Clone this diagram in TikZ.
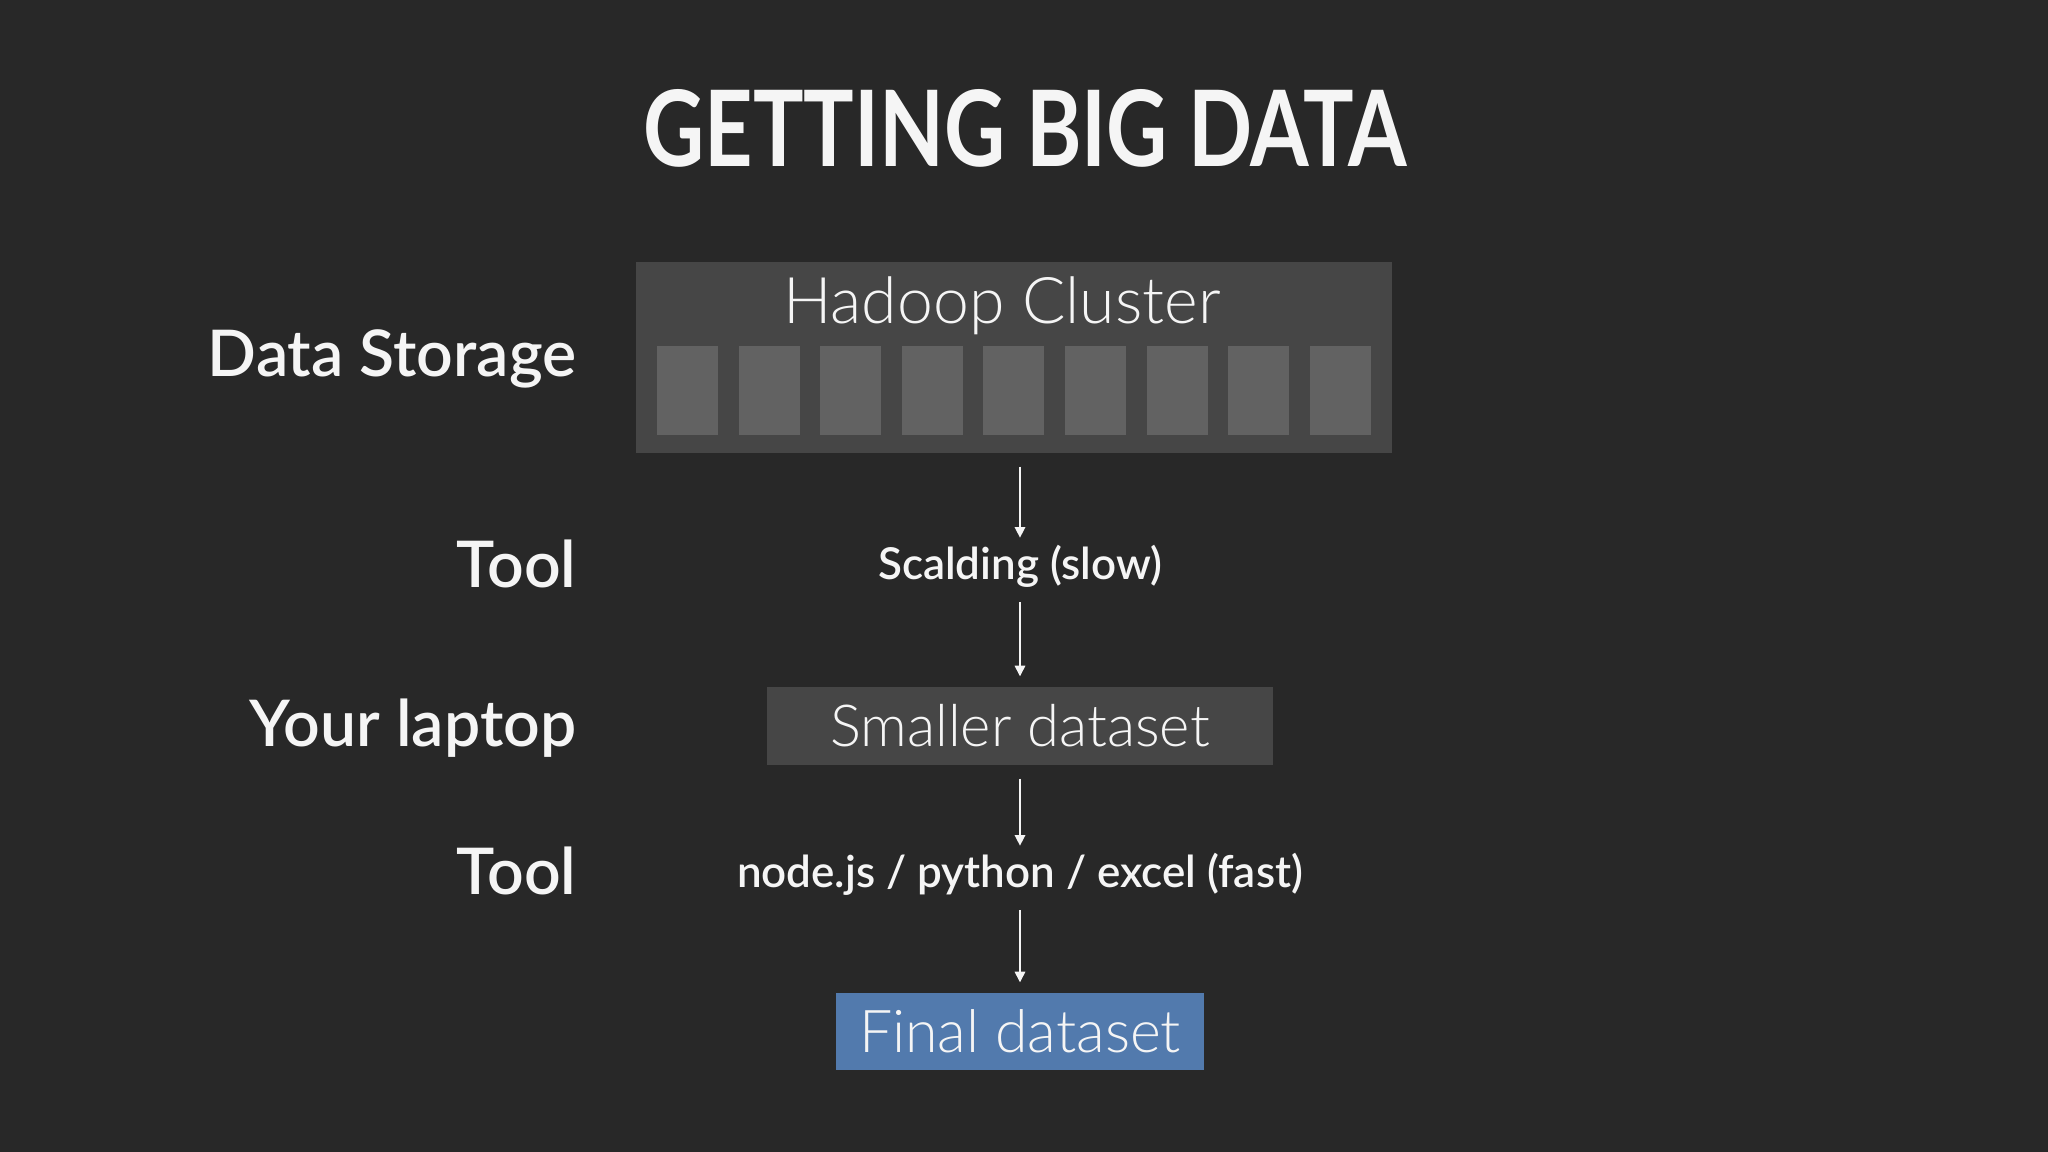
\documentclass[tikz,border=0pt]{standalone}
\usepackage{fontspec}
\setmainfont{Lato}
\newfontfamily\lightfont{Lato Light}
\newfontfamily\semifont{Lato Semibold}
\newfontfamily\titlefont[FakeStretch=0.8]{Lato}
\usetikzlibrary{arrows.meta,positioning}

\definecolor{bgdark}{RGB}{40,40,40}
\definecolor{boxgray}{RGB}{70,70,70}
\definecolor{servergray}{RGB}{98,98,98}
\definecolor{finalblue}{RGB}{82,122,173}
\definecolor{textwhite}{RGB}{245,245,245}

\begin{document}
\begin{tikzpicture}[
    side/.style={anchor=base east, inner sep=0pt, text=textwhite, font=\semifont\fontsize{18.3}{18.3}\selectfont},
    tool/.style={anchor=base, inner sep=0pt, text=textwhite, text height=9pt, text depth=2.5pt, font=\semifont\fontsize{12.5}{12.5}\selectfont},
    box/.style={fill=boxgray, inner sep=0pt, text=textwhite, text depth=0pt},
    server/.style={fill=servergray, inner sep=0pt, minimum width=0.61cm, minimum height=0.89cm},
    flow/.style={-{Triangle[width=3pt,length=3pt]}, line width=0.4pt, draw=textwhite, shorten <=0.13cm, shorten >=0.1cm}
  ]
    \fill[bgdark] (0,0) rectangle (20.48,11.52);
    \useasboundingbox (0,0) rectangle (20.48,11.52);

    \node[anchor=base, inner sep=0pt, text=textwhite, font=\titlefont\fontsize{30}{30}\selectfont\bfseries]
      (title) at (10.25,9.85) {GETTING BIG DATA};

    % left column
    \node[side] (storage) at (5.77,7.75) {Data Storage};
    \node[side] (tool1)   at (5.77,5.64) {Tool};
    \node[side] (laptop)  at (5.77,4.05) {Your laptop};
    \node[side] (tool2)   at (5.77,2.57) {Tool};

    % hadoop cluster
    \node[fill=boxgray, inner sep=0pt, minimum width=7.56cm, minimum height=1.91cm] (hadoop) at (10.14,7.945) {};
    \node[anchor=base, inner sep=0pt, text=textwhite, font=\lightfont\fontsize{18.3}{18.3}\selectfont] (hadooptitle) at (10.02,8.28) {Hadoop Cluster};
    \foreach \i in {0,...,8}
      \node[server] (s\i) at ({6.875+\i*0.816},7.615) {};

    \node[tool] (scald) at (10.20,5.72) {Scalding (slow)};
    \node[box, minimum width=5.06cm, minimum height=0.78cm, text height=11.9pt, font=\lightfont\fontsize{16.5}{16.5}\selectfont] (smaller) at (10.20,4.26) {Smaller dataset};
    \node[tool] (local) at (10.20,2.64) {node.js / python / excel (fast)};
    \node[box, fill=finalblue, minimum width=3.68cm, minimum height=0.77cm, text height=12.2pt, font=\lightfont\fontsize{16.8}{16.8}\selectfont] (final) at (10.20,1.205) {Final dataset};

    \draw[flow] (hadoop.south -| scald.north) -- (scald.north);
    \draw[flow] (scald.south) -- (smaller.north);
    \draw[flow] (smaller.south) -- (local.north);
    \draw[flow] (local.south) -- (final.north);
  \end{tikzpicture}
\end{document}
